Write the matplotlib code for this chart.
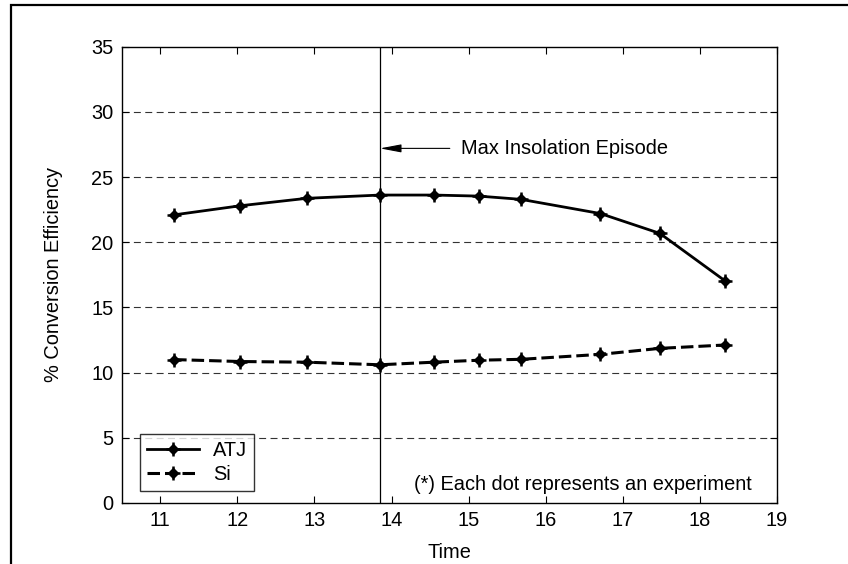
import numpy as np
import matplotlib.pyplot as plt
from matplotlib.patches import Rectangle

# measured conversion efficiency through the day
time = [11.18, 12.04, 12.90, 13.85, 14.55, 15.13, 15.68, 16.71, 17.48, 18.33]
atj = [22.1, 22.8, 23.37, 23.62, 23.62, 23.54, 23.29, 22.2, 20.68, 17.02]
si = [11.0, 10.85, 10.8, 10.6, 10.8, 10.95, 11.02, 11.4, 11.86, 12.12]
max_insolation = 13.85

plt.rcParams['font.family'] = ['Liberation Sans', 'DejaVu Sans']
plt.rcParams['lines.scale_dashes'] = False
fs = 14.4

fig = plt.figure(figsize=(8.48, 5.64), dpi=100)
ax = fig.add_axes([0.1435, 0.1082, 0.7728, 0.809])

# outer frame of the figure
fig.patches.append(Rectangle((11 / 848, -0.2), 1.5, 1.2 - 5 / 564, transform=fig.transFigure,
                             fill=False, edgecolor='black', linewidth=1.6))

for y in range(5, 35, 5):
    ax.axhline(y, color='#333333', linewidth=0.8, linestyle=(0, (5, 3.2)), zorder=1)

ax.axvline(max_insolation, color='black', linewidth=0.9, zorder=2)

h1, = ax.plot(time, atj, '-', color='black', linewidth=2.0, zorder=3)
m1, = ax.plot(time, atj, 'D', color='black', markersize=5.5, zorder=4)
p1, = ax.plot(time, atj, '+', color='black', markersize=10, markeredgewidth=1.8, zorder=4)
h2, = ax.plot(time, si, '--', color='black', linewidth=2.2, dashes=(9, 3.6), zorder=3)
m2, = ax.plot(time, si, 'D', color='black', markersize=5.5, zorder=4)
p2, = ax.plot(time, si, '+', color='black', markersize=10, markeredgewidth=1.8, zorder=4)

ax.annotate('Max Insolation Episode', xy=(max_insolation, 27.2), xytext=(14.9, 27.2),
            fontsize=fs, va='center', ha='left',
            arrowprops=dict(arrowstyle='-|>,head_length=0.9,head_width=0.17',
                            color='black', linewidth=0.8, shrinkA=6, shrinkB=0))

ax.text(14.29, 1.4, '(*) Each dot represents an experiment', fontsize=fs, va='center', ha='left')

leg = ax.legend([(h1, m1, p1), (h2, m2, p2)], ['ATJ', 'Si'], loc='lower left',
                bbox_to_anchor=(0.028, 0.026), fontsize=fs, frameon=True, fancybox=False,
                edgecolor='black', handlelength=2.6, handletextpad=0.7, borderpad=0.35,
                labelspacing=0.25, borderaxespad=0)
leg.get_frame().set_linewidth(1.0)

ax.set_xlim(10.5, 19)
ax.set_ylim(0, 35)
ax.set_xticks(np.arange(11, 20, 1))
ax.set_yticks(np.arange(0, 40, 5))
ax.tick_params(direction='in', top=True, right=True, labelsize=fs, length=5, width=0.8, pad=6)
for s in ax.spines.values():
    s.set_linewidth(1.0)

ax.set_xlabel('Time', fontsize=fs, labelpad=9)
ax.set_ylabel('% Conversion Efficiency', fontsize=fs, labelpad=20)

fig.savefig('out.png', dpi=100)
